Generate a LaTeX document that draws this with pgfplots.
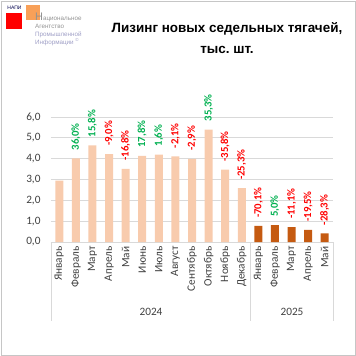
\documentclass[border=0pt]{standalone}
\usepackage{pgfplots}
\pgfplotsset{compat=1.18}
\usepackage{pgfplotstable}
\usepackage{fontspec}
\setmainfont{Carlito}
\newfontfamily\arialfont{Liberation Sans}
\frenchspacing
\definecolor{bar24}{HTML}{F8CBAD}
\definecolor{bar25}{HTML}{C55A11}
\definecolor{pos}{HTML}{00B050}
\definecolor{neg}{HTML}{FF0000}
\definecolor{gridc}{HTML}{D9D9D9}
\definecolor{txt}{HTML}{404040}
\definecolor{logoor}{HTML}{F79646}
\newcommand{\Pz}[1]{\textcolor{pos}{#1}}
\newcommand{\Nz}[1]{\textcolor{neg}{#1}}

\pgfplotstableread{
x y lab
1 2.95 {}
2 4.01 {\Pz{36,0\%}}
3 4.64 {\Pz{15,8\%}}
4 4.22 {\Nz{-9,0\%}}
5 3.51 {\Nz{-16,8\%}}
6 4.14 {\Pz{17,8\%}}
7 4.20 {\Pz{1,6\%}}
8 4.11 {\Nz{-2,1\%}}
9 3.99 {\Nz{-2,9\%}}
10 5.40 {\Pz{35,3\%}}
11 3.47 {\Nz{-35,8\%}}
12 2.59 {\Nz{-25,3\%}}
}\dataA

\pgfplotstableread{
x y lab
13 0.77 {\Nz{-70,1\%}}
14 0.81 {\Pz{5,0\%}}
15 0.72 {\Nz{-11,1\%}}
16 0.58 {\Nz{-19,5\%}}
17 0.42 {\Nz{-28,3\%}}
}\dataB

\begin{document}
\begin{tikzpicture}
\path[use as bounding box] (0,0) rectangle (356bp,-356bp);
\draw[gray!45, line width=1bp] (1bp,-1bp) rectangle (355bp,-355bp);

% logo
\node[font=\arialfont\fontsize{5}{5}\selectfont, text=black!70!blue, inner sep=0pt] at (14.5bp,-8bp) {НАПИ};
\fill[neg] (6bp,-13bp) rectangle (22bp,-29bp);
\fill[logoor, opacity=0.9] (26bp,-5bp) rectangle (40bp,-20bp);
\node[anchor=base west, inner sep=0pt, text=gray!85, font=\arialfont] at (35bp,-20.5bp) {{\fontsize{11}{11}\selectfont Н}{\fontsize{6.3}{7}\selectfont ациональное}};
\node[anchor=base west, inner sep=0pt, text=gray!85, font=\arialfont\fontsize{6.3}{7}\selectfont] at (35bp,-28bp) {Агентство};
\node[anchor=base west, inner sep=0pt, text=gray!75!blue!60!white, font=\arialfont\fontsize{6.3}{7}\selectfont] at (35bp,-36bp) {Промышленной};
\node[anchor=base west, inner sep=0pt, text=gray!75!blue!60!white, font=\arialfont\fontsize{6.3}{7}\selectfont] at (35bp,-44bp) {Информации \textsuperscript{©}};

% title
\node[align=center, font=\arialfont\bfseries\fontsize{13.5}{21}\selectfont, inner sep=0pt] at (227bp,-38bp) {Лизинг новых седельных тягачей,\\тыс.~шт.};

\begin{axis}[
  at={(51bp,-242bp)}, anchor=south west,
  scale only axis, width=282bp, height=125bp,
  xmin=0.5, xmax=17.5, ymin=0, ymax=6,
  ytick={0,1,...,6},
  xtick={1,...,17},
  xticklabels={Январь,Февраль,Март,Апрель,Май,Июнь,Июль,Август,Сентябрь,Октябрь,Ноябрь,Декабрь,Январь,Февраль,Март,Апрель,Май},
  x tick label style={rotate=90, anchor=east, font=\fontsize{11.3}{12}\selectfont, text=txt, xshift=-1bp},
  y tick label style={font=\fontsize{11.3}{12}\selectfont, text=txt, xshift=-7bp},
  /pgf/number format/.cd, fixed, fixed zerofill, precision=1, use comma, assume math mode=true,
  /pgfplots/.cd,
  ymajorgrids, grid style={gridc, line width=0.8bp},
  axis line style={draw=none},
  major tick length=0pt,
  clip=false,
  ybar, bar width=8bp, bar shift=0pt,
  point meta=explicit symbolic,
  nodes near coords,
  every node near coord/.append style={rotate=90, anchor=west, inner xsep=8bp, font=\bfseries\fontsize{10.8}{12}\selectfont},
]
\addplot[fill=bar24, draw=none] table[x=x, y=y, meta=lab] {\dataA};
\addplot[fill=bar25, draw=none] table[x=x, y=y, meta=lab] {\dataB};
\end{axis}

% category group separators and years
\draw[gridc, line width=0.8bp] (51bp,-242bp) -- (51bp,-321bp);
\draw[gridc, line width=0.8bp] (250.7bp,-242bp) -- (250.7bp,-321bp);
\draw[gridc, line width=0.8bp] (333bp,-242bp) -- (333bp,-321bp);
\node[font=\fontsize{11.3}{12}\selectfont, text=txt] at (151bp,-312bp) {2024};
\node[font=\fontsize{11.3}{12}\selectfont, text=txt] at (292bp,-312bp) {2025};
\end{tikzpicture}
\end{document}
